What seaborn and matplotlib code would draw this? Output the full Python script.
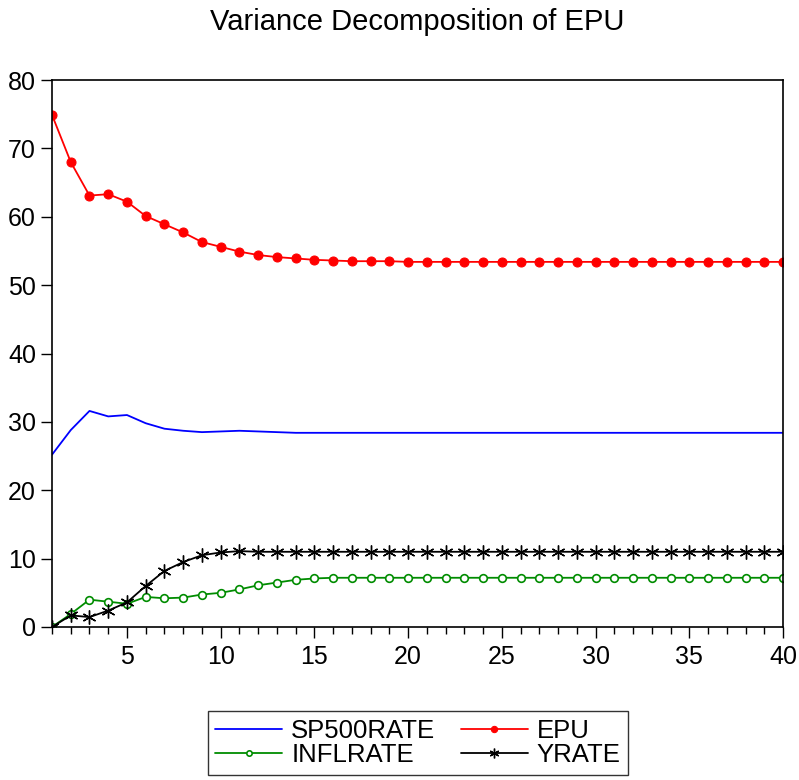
import numpy as np
import pandas as pd
import seaborn as sns
import matplotlib
matplotlib.use("Agg")
import matplotlib.pyplot as plt
from matplotlib.ticker import MultipleLocator

periods = list(range(1, 41))
sp500rate = [25.2, 28.8, 31.6, 30.8, 31.0, 29.8, 29.0, 28.7, 28.5, 28.6,
             28.7, 28.6, 28.5, 28.4, 28.4] + [28.4] * 25
epu = [74.9, 68.0, 63.1, 63.3, 62.2, 60.1, 58.9, 57.7, 56.3, 55.6,
       54.9, 54.4, 54.1, 53.9, 53.7, 53.6, 53.5, 53.5, 53.5] + [53.4] * 21
inflrate = [0.0, 1.9, 4.0, 3.7, 3.4, 4.4, 4.2, 4.3, 4.75, 5.0,
            5.5, 6.1, 6.5, 6.9, 7.1, 7.2] + [7.2] * 24
yrate = [0.0, 1.7, 1.45, 2.4, 3.6, 6.0, 8.2, 9.5, 10.5, 10.9,
         11.1, 11.0] + [11.0] * 28

df = pd.DataFrame({"period": periods, "SP500RATE": sp500rate, "EPU": epu,
                   "INFLRATE": inflrate, "YRATE": yrate})

sns.set_style("white")
plt.rcParams["font.family"] = ["Liberation Sans", "DejaVu Sans"]
plt.rcParams["text.color"] = "black"
plt.rcParams["xtick.color"] = "black"
plt.rcParams["ytick.color"] = "black"
plt.rcParams["axes.labelcolor"] = "black"

fig = plt.figure(figsize=(7.99, 7.80), dpi=100)
ax = fig.add_axes([52 / 799, 1 - 627 / 780, (783 - 52) / 799, (627 - 80) / 780])

sns.lineplot(data=df, x="period", y="SP500RATE", ax=ax, color="#0000ff", lw=1.3,
             label="SP500RATE")
sns.lineplot(data=df, x="period", y="INFLRATE", ax=ax, color="#008c00", lw=1.3,
             marker="o", markersize=5.5, markerfacecolor="white",
             markeredgecolor="#008c00", markeredgewidth=1.2, label="INFLRATE")
sns.lineplot(data=df, x="period", y="EPU", ax=ax, color="#ff0000", lw=1.3,
             marker="o", markersize=6.5, markeredgecolor="#ff0000", label="EPU")
sns.lineplot(data=df, x="period", y="YRATE", ax=ax, color="black", lw=1.3,
             marker=(6, 2, 0), markersize=10, markeredgecolor="black",
             markeredgewidth=1.0, label="YRATE")

ax.set_xlim(1, 40)
ax.set_ylim(0, 80)
ax.set_xlabel("")
ax.set_ylabel("")
ax.xaxis.set_major_locator(MultipleLocator(5))
ax.xaxis.set_minor_locator(MultipleLocator(1))
ax.yaxis.set_major_locator(MultipleLocator(10))
ax.tick_params(axis="both", which="major", direction="out", length=8, width=1,
               labelsize=18, color="black", labelcolor="black",
               left=True, bottom=True)
ax.tick_params(axis="x", which="minor", direction="out", length=5, width=1,
               bottom=True)
ax.tick_params(axis="x", pad=5)
for s in ax.spines.values():
    s.set_color("black")
    s.set_linewidth(1.2)
    s.set_visible(True)

ax.set_title("Variance Decomposition of EPU", fontsize=21, pad=36,
             color="black")

ax.get_legend().remove()
h, l = ax.get_legend_handles_labels()
order = ["SP500RATE", "INFLRATE", "EPU", "YRATE"]
hmap = dict(zip(l, h))
leg = fig.legend([hmap[k] for k in order], order, ncol=2,
                 loc="center", bbox_to_anchor=(418 / 799, 1 - 743 / 780),
                 fontsize=18.5, frameon=True, fancybox=False, edgecolor="black",
                 handlelength=2.6, columnspacing=1.0, borderpad=0.3,
                 labelspacing=0.02, handletextpad=0.35, markerscale=0.7)
leg.get_frame().set_linewidth(1.0)
for t in leg.get_texts():
    t.set_color("black")

fig.savefig("out.png", dpi=100, facecolor="white")
